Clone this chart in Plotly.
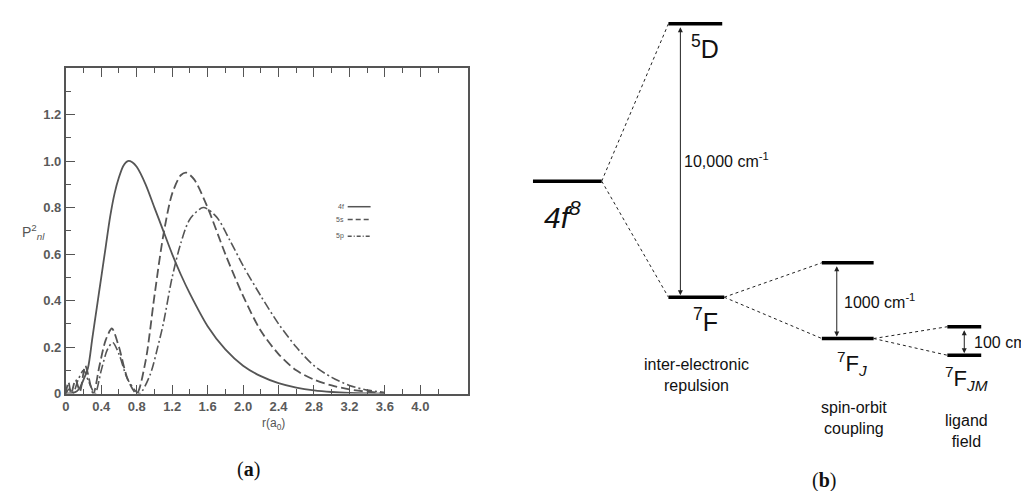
import plotly.graph_objects as go

W, H = 1029, 491

# ---------------- Panel (a): radial distribution data ----------------
r_4f = [0, 0.1, 0.15, 0.2, 0.25, 0.3, 0.35, 0.4, 0.45, 0.5, 0.55, 0.6, 0.65, 0.7, 0.75, 0.8,
        0.9, 1.0, 1.1, 1.2, 1.3, 1.4, 1.6, 1.8, 2.0, 2.2, 2.4, 2.6, 2.8, 3.0, 3.2, 3.4, 3.6]
p_4f = [0, 0.005, 0.02, 0.06, 0.11, 0.24, 0.37, 0.5, 0.63, 0.76, 0.86, 0.93, 0.98, 1.0, 0.995, 0.975,
        0.9, 0.8, 0.7, 0.6, 0.51, 0.43, 0.29, 0.19, 0.12, 0.075, 0.045, 0.026, 0.014, 0.007, 0.003, 0.001, 0.0]

r_5s = [0, 0.03, 0.06, 0.11, 0.16, 0.22, 0.31, 0.38, 0.45, 0.52, 0.6, 0.7, 0.8, 0.9, 1.0, 1.1,
        1.2, 1.3, 1.36, 1.45, 1.6, 1.8, 2.0, 2.2, 2.4, 2.6, 2.8, 3.0, 3.2, 3.4, 3.6]
p_5s = [0, 0.05, 0.0, 0.06, 0.01, 0.12, 0.0, 0.12, 0.23, 0.28, 0.2, 0.06, 0.0, 0.14, 0.42, 0.68,
        0.86, 0.94, 0.95, 0.92, 0.8, 0.6, 0.42, 0.27, 0.17, 0.1, 0.06, 0.035, 0.018, 0.008, 0.002]

r_5p = [0, 0.04, 0.08, 0.14, 0.2, 0.26, 0.33, 0.4, 0.47, 0.53, 0.6, 0.7, 0.83, 0.95, 1.05, 1.1,
        1.2, 1.3, 1.4, 1.55, 1.7, 1.85, 2.0, 2.2, 2.4, 2.6, 2.8, 3.0, 3.2, 3.4, 3.6]
p_5p = [0, 0.02, 0.0, 0.06, 0.1, 0.05, 0.0, 0.1, 0.19, 0.22, 0.17, 0.06, 0.0, 0.08, 0.22, 0.3,
        0.5, 0.65, 0.75, 0.8, 0.76, 0.66, 0.55, 0.42, 0.3, 0.2, 0.12, 0.07, 0.035, 0.015, 0.005]

x_ticks = [0, 0.4, 0.8, 1.2, 1.6, 2.0, 2.4, 2.8, 3.2, 3.6, 4.0]
x_ticklabels = ["0", "0.4", "0.8", "1.2", "1.6", "2.0", "2.4", "2.8", "3.2", "3.6", "4.0"]
y_ticks = [0, 0.2, 0.4, 0.6, 0.8, 1.0, 1.2]
y_ticklabels = ["0", "0.2", "0.4", "0.6", "0.8", "1.0", "1.2"]

legend_names = ["4f", "5s", "5p"]

# ---------------- Panel (b): energy level diagram data ----------------
# level positions: x in column units (figure pixels), energy in arbitrary units
level_names = ["4f8", "5D", "7F", "7FJ_hi", "7FJ_lo", "7FJM_hi", "7FJM_lo"]
level_x0 = [523, 659, 659, 813, 813, 939, 939]
level_x1 = [592, 713, 715, 865, 865, 973, 973]
level_E = [315, 475, 197, 232, 155, 167, 138]

connections = [(0, 1), (0, 2), (2, 3), (2, 4), (4, 5), (4, 6)]
# (upper level, lower level, arrow column, label start, label text)
gaps = [(1, 2, 671, 675, "10,000 cm<sup>-1</sup>"),
        (3, 4, 828, 835, "1000 cm<sup>-1</sup>"),
        (5, 6, 956, 966, "100 cm<sup>-1</sup>")]

GRAY = "#555555"
fig = go.Figure()

styles = [("solid", 1.8), ("9px,4px", 1.8), ("9px,3px,2px,3px", 1.6)]
for (rx, py, nm, (dash, wd)) in zip([r_4f, r_5s, r_5p], [p_4f, p_5s, p_5p], legend_names, styles):
    fig.add_trace(go.Scatter(x=rx, y=py, mode="lines", name=nm, showlegend=False,
                             line=dict(color=GRAY, width=wd, dash=dash, shape="spline", smoothing=0.8),
                             xaxis="x", yaxis="y"))

# levels
lx, ly = [], []
for x0, x1, e in zip(level_x0, level_x1, level_E):
    lx += [x0, x1, None]
    ly += [e, e, None]
fig.add_trace(go.Scatter(x=lx, y=ly, mode="lines", showlegend=False,
                         line=dict(color="black", width=3.5), xaxis="x2", yaxis="y2"))

# connectors
cx, cy = [], []
for a, b in connections:
    cx += [level_x1[a], level_x0[b], None]
    cy += [level_E[a], level_E[b], None]
fig.add_trace(go.Scatter(x=cx, y=cy, mode="lines", showlegend=False,
                         line=dict(color="#222222", width=1, dash="3px,3px"), xaxis="x2", yaxis="y2"))

ann = []
for hi, lo, xa, xl, txt in gaps:
    ann.append(dict(x=xa, y=level_E[lo], ax=xa, ay=level_E[hi], xref="x2", yref="y2",
                    axref="x2", ayref="y2", text="", showarrow=True, arrowhead=2, startarrowhead=2,
                    arrowside="end+start", arrowsize=1, arrowwidth=1, arrowcolor="#222222",
                    standoff=2, startstandoff=2))
    ann.append(dict(x=xl - 2, y=(level_E[hi] + level_E[lo]) / 2, xref="x2", yref="y2", text=txt,
                    showarrow=False, xanchor="left", yanchor="middle",
                    font=dict(family="Liberation Sans, Arial", size=16, color="#111111")))

# level labels
lab_font = dict(family="Liberation Sans, Arial", size=25, color="#111111")
small_font = dict(family="Liberation Sans, Arial", size=16, color="#111111")
ann += [
    dict(x=553, y=491 - 210, xref="x2", yref="y2", text="<i>4f</i><sup><i>8</i></sup>", showarrow=False,
         font=dict(family="Liberation Sans, Arial", size=30, color="#111111")),
    dict(x=696, y=491 - 40, xref="x2", yref="y2", text="<sup>5</sup>D", showarrow=False, font=lab_font),
    dict(x=696, y=491 - 317, xref="x2", yref="y2", text="<sup>7</sup>F", showarrow=False, font=lab_font),
    dict(x=843, y=491 - 361, xref="x2", yref="y2", text="<sup>7</sup>F<sub><i>J</i></sub>", showarrow=False,
         font=dict(family="Liberation Sans, Arial", size=22, color="#111111")),
    dict(x=958, y=491 - 377, xref="x2", yref="y2", text="<sup>7</sup>F<sub><i>JM</i></sub>", showarrow=False,
         font=dict(family="Liberation Sans, Arial", size=22, color="#111111")),
    dict(x=687, y=491 - 373, xref="x2", yref="y2", text="inter-electronic<br>repulsion", showarrow=False,
         font=small_font),
    dict(x=845, y=491 - 417, xref="x2", yref="y2", text="spin-orbit<br>coupling", showarrow=False,
         font=small_font),
    dict(x=958, y=491 - 430, xref="x2", yref="y2", text="ligand<br>field", showarrow=False,
         font=small_font),
    dict(x=815, y=491 - 480, xref="x2", yref="y2", text="(<b>b</b>)", showarrow=False,
         font=dict(family="Liberation Serif, DejaVu Serif", size=20, color="#111111")),
    dict(x=237, y=491 - 469, xref="x2", yref="y2", text="(<b>a</b>)", showarrow=False,
         font=dict(family="Liberation Serif, DejaVu Serif", size=20, color="#111111")),
    # panel (a) axis titles
    dict(x=22, y=491 - 228, xref="x2", yref="y2", text="P<sup>2</sup><sub><i>nl</i></sub>", showarrow=False,
         font=dict(family="Liberation Sans, Arial", size=14, color=GRAY)),
    dict(x=263, y=491 - 423, xref="x2", yref="y2", text="r(a<sub>0</sub>)", showarrow=False,
         font=dict(family="Liberation Sans, Arial", size=12, color=GRAY)),
]

# manual legend for panel (a)
leg_y = [202, 215, 232]
leg_dash = ["solid", "5px,3px", "4px,2px,1px,2px"]
shapes = []
for nm, yy, dsh in zip(legend_names, leg_y, leg_dash):
    ann.append(dict(x=335, y=491 - yy, xref="x2", yref="y2", text=nm, showarrow=False, xanchor="right",
                    font=dict(family="Liberation Sans, Arial", size=7, color=GRAY)))
    shapes.append(dict(type="line", x0=337, x1=360, y0=491 - yy, y1=491 - yy, xref="x2", yref="y2",
                       line=dict(color=GRAY, width=1.5, dash=dsh)))

ax_font = dict(family="Liberation Sans, Arial", size=13, color="#5a5a5a", weight=600)
fig.update_layout(
    width=W, height=H, margin=dict(l=0, r=0, t=0, b=0),
    paper_bgcolor="white", plot_bgcolor="rgba(0,0,0,0)",
    xaxis=dict(domain=[54 / W, 458 / W], range=[0, 4.54], tickvals=x_ticks, ticktext=x_ticklabels,
               ticks="inside", ticklen=9, tickcolor=GRAY, tickwidth=1.4, showline=True, linecolor=GRAY,
               linewidth=1.8, mirror="ticks", showgrid=False, zeroline=False, tickfont=ax_font,
               minor=dict(ticks="inside", ticklen=5, tickvals=[0.2, 0.6, 1.0, 1.4, 1.8, 2.2, 2.6, 3.0, 3.4, 3.8, 4.2],
                          tickcolor=GRAY, tickwidth=1.3, showgrid=False)),
    yaxis=dict(domain=[1 - 392 / H, 1 - 61 / H], range=[0, 1.4], tickvals=y_ticks, ticktext=y_ticklabels,
               ticks="inside", ticklen=9, tickcolor=GRAY, tickwidth=1.4, showline=True, linecolor=GRAY,
               linewidth=1.8, mirror=True, showgrid=False, zeroline=False, tickfont=ax_font,
               minor=dict(ticks="inside", ticklen=5, tickvals=[0.1, 0.3, 0.5, 0.7, 0.9, 1.1, 1.3],
                          tickcolor=GRAY, tickwidth=1.3, showgrid=False)),
    xaxis2=dict(domain=[0, 1], range=[0, W], visible=False, anchor="y2"),
    yaxis2=dict(domain=[0, 1], range=[0, H], visible=False, anchor="x2"),
    annotations=ann, shapes=shapes,
)

fig.write_html("out.html")
